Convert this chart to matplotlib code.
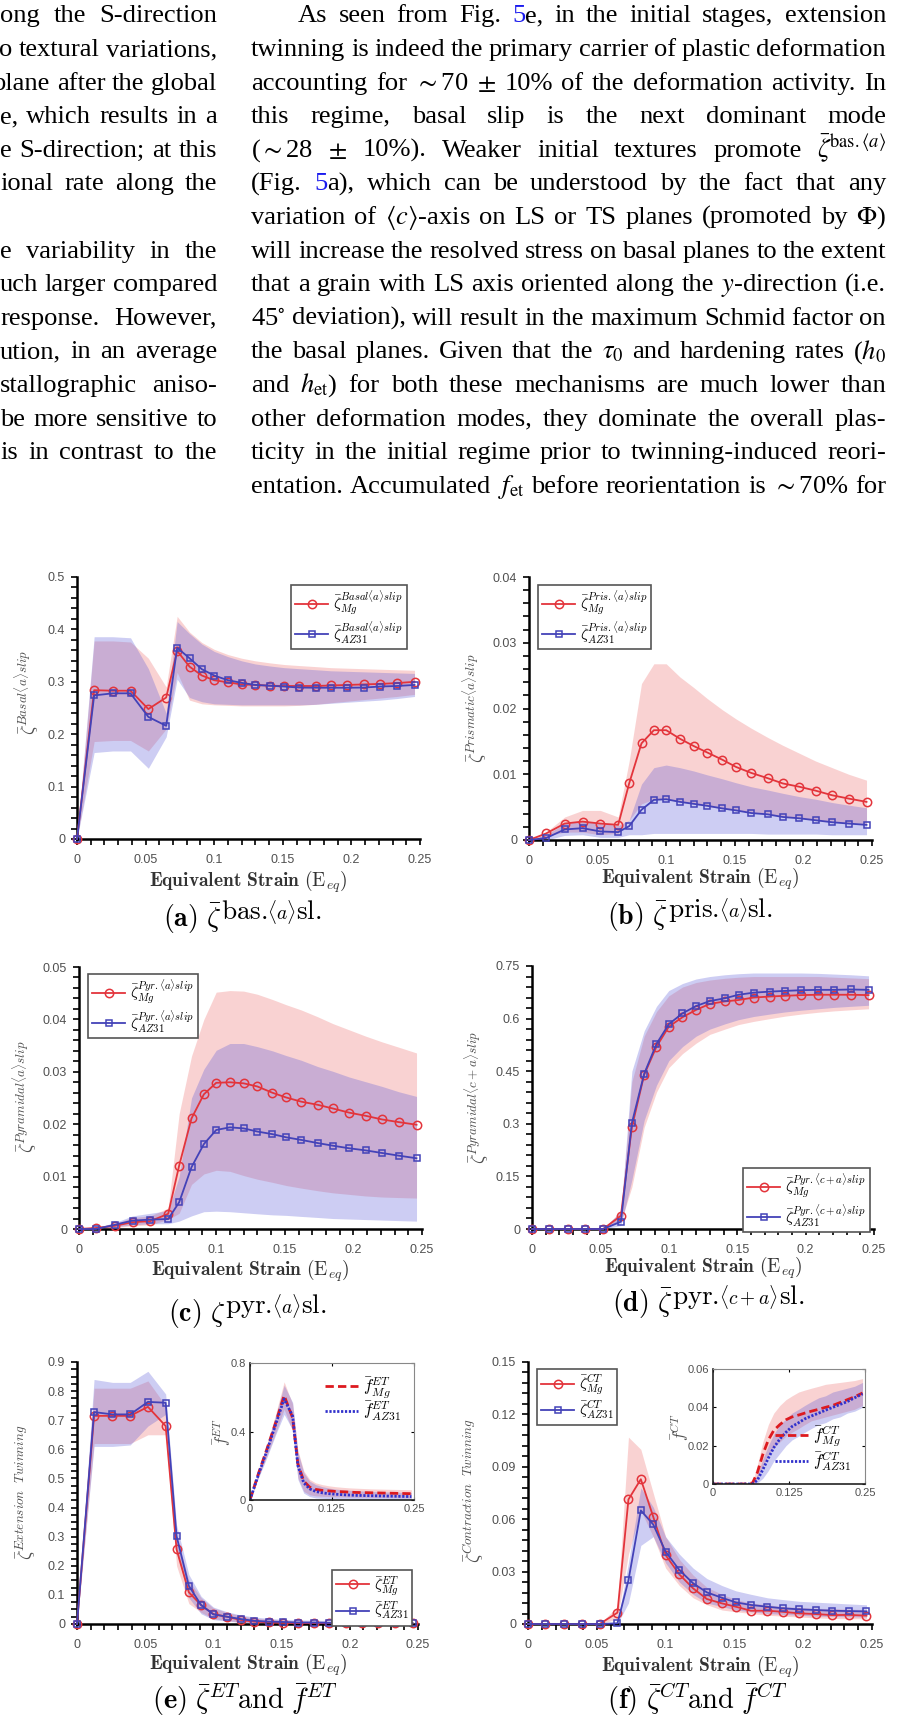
import matplotlib
matplotlib.use("Agg")
import matplotlib.pyplot as plt
from matplotlib.ticker import MultipleLocator, FuncFormatter

plt.rcParams["font.family"] = "Liberation Sans"
plt.rcParams["mathtext.fontset"] = "cm"

W, H = 901, 1723

# ---------------------------------------------------------------- data
strain = [0, 0.0125, 0.026, 0.039, 0.052, 0.065, 0.073, 0.082, 0.091, 0.1, 0.11, 0.12,
          0.13, 0.141, 0.151, 0.162, 0.174, 0.185, 0.197, 0.209, 0.221, 0.233, 0.246]

# (a) basal <a> slip
basal_mg = [0, 0.284, 0.283, 0.283, 0.248, 0.270, 0.359, 0.329, 0.312, 0.303, 0.299, 0.295,
            0.294, 0.2925, 0.292, 0.292, 0.292, 0.293, 0.294, 0.295, 0.296, 0.2975, 0.300]
basal_mg_lo = [0, 0.186, 0.188, 0.188, 0.168, 0.210, 0.318, 0.265, 0.258, 0.256, 0.255, 0.254,
               0.254, 0.254, 0.254, 0.255, 0.257, 0.260, 0.263, 0.266, 0.269, 0.272, 0.276]
basal_mg_hi = [0, 0.378, 0.378, 0.376, 0.345, 0.290, 0.425, 0.395, 0.375, 0.362, 0.352, 0.345,
               0.340, 0.336, 0.333, 0.331, 0.329, 0.327, 0.326, 0.325, 0.324, 0.323, 0.322]
basal_az = [0, 0.274, 0.278, 0.278, 0.233, 0.216, 0.365, 0.345, 0.324, 0.312, 0.303, 0.298,
            0.294, 0.2925, 0.291, 0.289, 0.2887, 0.2887, 0.2887, 0.289, 0.291, 0.292, 0.294]
basal_az_lo = [0, 0.165, 0.168, 0.168, 0.135, 0.195, 0.305, 0.270, 0.262, 0.258, 0.257, 0.256,
               0.256, 0.256, 0.256, 0.256, 0.257, 0.259, 0.261, 0.263, 0.265, 0.268, 0.272]
basal_az_hi = [0, 0.386, 0.386, 0.384, 0.325, 0.240, 0.415, 0.392, 0.372, 0.358, 0.348, 0.340,
               0.334, 0.330, 0.327, 0.325, 0.323, 0.321, 0.320, 0.319, 0.318, 0.317, 0.316]

# (b) prismatic <a> slip
pris_mg = [0, 0.001, 0.0025, 0.0028, 0.0025, 0.0023, 0.0086, 0.0147, 0.0167, 0.0167, 0.0154, 0.0143,
           0.0133, 0.0122, 0.0111, 0.0102, 0.0094, 0.0086, 0.0081, 0.0075, 0.0068, 0.0063, 0.0058]
pris_mg_lo = [0, 0.0006, 0.0012, 0.0012, 0.0008, 0.001, 0.003, 0.0055, 0.0062, 0.0062, 0.0058, 0.0055,
              0.0051, 0.0048, 0.0045, 0.0042, 0.0039, 0.0036, 0.0033, 0.003, 0.0028, 0.0026, 0.0025]
pris_mg_hi = [0, 0.0012, 0.0035, 0.0045, 0.0045, 0.0035, 0.012, 0.0238, 0.0268, 0.0268, 0.0248, 0.0232,
              0.0215, 0.0198, 0.0184, 0.017, 0.0156, 0.0144, 0.0132, 0.012, 0.011, 0.01, 0.0091]
pris_az = [0, 0.0003, 0.0016, 0.0018, 0.0013, 0.0012, 0.0021, 0.0046, 0.0061, 0.0062, 0.0058, 0.0055,
           0.0052, 0.0048, 0.0045, 0.0041, 0.0039, 0.0035, 0.0033, 0.0030, 0.0027, 0.0025, 0.0023]
pris_az_lo = [0, 0.0, 0.0007, 0.0008, 0.0004, 0.0004, 0.0008, 0.0008, 0.001, 0.001, 0.001, 0.001,
              0.001, 0.001, 0.001, 0.001, 0.0009, 0.0009, 0.0009, 0.0009, 0.0008, 0.0008, 0.0008]
pris_az_hi = [0, 0.0008, 0.0025, 0.0028, 0.0025, 0.0022, 0.003, 0.0085, 0.011, 0.0114, 0.011, 0.0105,
              0.0099, 0.0093, 0.0087, 0.0081, 0.0076, 0.0071, 0.0066, 0.0062, 0.0057, 0.0053, 0.0049]

# (c) pyramidal <a> slip
pyra_mg = [0, 0.0002, 0.0006, 0.0013, 0.0015, 0.0029, 0.0121, 0.0211, 0.0257, 0.0279, 0.028, 0.0278,
           0.0272, 0.026, 0.0251, 0.0243, 0.0237, 0.023, 0.0222, 0.0216, 0.0209, 0.0204, 0.0199]
pyra_mg_lo = [0, 0.0, 0.0003, 0.0006, 0.0008, 0.0018, 0.003, 0.0085, 0.0105, 0.0112, 0.011, 0.0102,
              0.0095, 0.0089, 0.0083, 0.0078, 0.0073, 0.0069, 0.0066, 0.0063, 0.0061, 0.006, 0.0059]
pyra_mg_hi = [0, 0.0004, 0.001, 0.0022, 0.0025, 0.004, 0.022, 0.033, 0.040, 0.0452, 0.0455, 0.0454,
              0.0448, 0.0438, 0.0428, 0.0418, 0.0405, 0.0392, 0.038, 0.0368, 0.0357, 0.0347, 0.0336]
pyra_az = [0, 0.0, 0.0008, 0.0016, 0.0018, 0.0019, 0.0051, 0.0118, 0.0162, 0.0189, 0.0194, 0.0192,
           0.0186, 0.0181, 0.0175, 0.017, 0.0164, 0.0159, 0.0154, 0.015, 0.0145, 0.014, 0.0135]
pyra_az_lo = [0, 0.0, 0.0004, 0.0008, 0.001, 0.001, 0.0015, 0.0025, 0.0033, 0.0034, 0.0033, 0.0031,
              0.0029, 0.0027, 0.0026, 0.0024, 0.0022, 0.002, 0.0019, 0.0018, 0.0017, 0.0016, 0.0015]
pyra_az_hi = [0, 0.0003, 0.0012, 0.0025, 0.003, 0.0035, 0.010, 0.025, 0.0305, 0.0341, 0.0354, 0.0354,
              0.0348, 0.034, 0.0331, 0.0322, 0.031, 0.0301, 0.029, 0.0281, 0.0272, 0.0262, 0.0253]

# (d) pyramidal <c+a> slip
pyrca_mg = [0, 0, 0, 0, 0, 0.038, 0.29, 0.44, 0.52, 0.577, 0.604, 0.625,
            0.642, 0.649, 0.653, 0.66, 0.663, 0.665, 0.667, 0.668, 0.668, 0.668, 0.667]
pyrca_mg_lo = [0, 0, 0, 0, 0, 0.02, 0.12, 0.29, 0.39, 0.46, 0.50, 0.53,
               0.555, 0.57, 0.583, 0.592, 0.60, 0.607, 0.613, 0.618, 0.622, 0.625, 0.628]
pyrca_mg_hi = [0, 0, 0, 0, 0.002, 0.05, 0.42, 0.55, 0.62, 0.665, 0.69, 0.703,
               0.71, 0.715, 0.718, 0.72, 0.72, 0.72, 0.72, 0.72, 0.718, 0.716, 0.714]
pyrca_az = [0, 0, 0, 0, 0, 0.021, 0.302, 0.4425, 0.528, 0.584, 0.615, 0.636,
            0.65, 0.658, 0.668, 0.674, 0.677, 0.679, 0.681, 0.682, 0.682, 0.683, 0.682]
pyrca_az_lo = [0, 0, 0, 0, 0, 0.01, 0.14, 0.31, 0.41, 0.48, 0.52, 0.55,
               0.57, 0.585, 0.597, 0.606, 0.613, 0.619, 0.624, 0.628, 0.632, 0.635, 0.638]
pyrca_az_hi = [0, 0, 0, 0, 0.002, 0.05, 0.45, 0.565, 0.635, 0.68, 0.70, 0.713,
               0.72, 0.725, 0.728, 0.73, 0.73, 0.73, 0.73, 0.729, 0.727, 0.725, 0.722]

# (e) extension twinning
et_mg = [0, 0.715, 0.715, 0.715, 0.746, 0.68, 0.256, 0.109, 0.065, 0.034, 0.025, 0.014,
         0.008, 0.006, 0.004, 0.003, 0.003, 0.003, 0.002, 0.002, 0.002, 0.002, 0.002]
et_mg_lo = [0, 0.62, 0.62, 0.62, 0.65, 0.65, 0.20, 0.07, 0.04, 0.018, 0.012, 0.005,
            0.002, 0.001, 0, 0, 0, 0, 0, 0, 0, 0, 0]
et_mg_hi = [0, 0.81, 0.81, 0.81, 0.835, 0.75, 0.30, 0.15, 0.09, 0.055, 0.04, 0.028,
            0.02, 0.016, 0.013, 0.011, 0.01, 0.009, 0.008, 0.008, 0.007, 0.007, 0.007]
et_az = [0, 0.728, 0.72, 0.72, 0.763, 0.76, 0.302, 0.131, 0.065, 0.033, 0.025, 0.017,
         0.011, 0.008, 0.007, 0.005, 0.005, 0.004, 0.004, 0.003, 0.003, 0.003, 0.003]
et_az_lo = [0, 0.61, 0.61, 0.615, 0.68, 0.72, 0.25, 0.09, 0.035, 0.015, 0.01, 0.006,
            0.003, 0.002, 0.001, 0, 0, 0, 0, 0, 0, 0, 0]
et_az_hi = [0, 0.84, 0.83, 0.83, 0.868, 0.79, 0.34, 0.17, 0.095, 0.058, 0.042, 0.031,
            0.024, 0.019, 0.016, 0.014, 0.013, 0.012, 0.011, 0.011, 0.01, 0.01, 0.01]

# (e) inset: extension twin volume fraction
fet_mg = [0, 0.15, 0.30, 0.45, 0.61, 0.48, 0.21, 0.11, 0.075, 0.062, 0.056, 0.053,
          0.05, 0.048, 0.046, 0.044, 0.043, 0.042, 0.041, 0.04, 0.039, 0.038, 0.037]
fet_mg_lo = [0, 0.13, 0.26, 0.39, 0.53, 0.40, 0.13, 0.05, 0.03, 0.024, 0.022, 0.02,
             0.019, 0.018, 0.017, 0.016, 0.016, 0.015, 0.015, 0.014, 0.014, 0.013, 0.013]
fet_mg_hi = [0, 0.165, 0.33, 0.50, 0.69, 0.56, 0.29, 0.17, 0.12, 0.1, 0.09, 0.083,
             0.078, 0.074, 0.071, 0.069, 0.067, 0.065, 0.064, 0.063, 0.062, 0.061, 0.06]
fet_az = [0, 0.145, 0.29, 0.44, 0.59, 0.49, 0.20, 0.10, 0.065, 0.05, 0.042, 0.037,
          0.034, 0.031, 0.029, 0.027, 0.026, 0.025, 0.024, 0.023, 0.022, 0.021, 0.02]
fet_az_lo = [0, 0.125, 0.25, 0.38, 0.50, 0.41, 0.12, 0.04, 0.02, 0.012, 0.01, 0.008,
             0.007, 0.006, 0.005, 0.005, 0.004, 0.004, 0.004, 0.003, 0.003, 0.003, 0.003]
fet_az_hi = [0, 0.16, 0.32, 0.49, 0.67, 0.57, 0.28, 0.16, 0.11, 0.09, 0.078, 0.07,
             0.064, 0.06, 0.057, 0.054, 0.052, 0.05, 0.048, 0.047, 0.046, 0.045, 0.044]

# (f) contraction twinning
ct_mg = [0, 0, 0, 0, 0, 0.0065, 0.0713, 0.0829, 0.0614, 0.0395, 0.0284, 0.0204,
         0.0143, 0.0118, 0.0099, 0.0076, 0.0076, 0.007, 0.0061, 0.0057, 0.0051, 0.0052, 0.0048]
ct_mg_lo = [0, 0, 0, 0, 0, 0.003, 0.04, 0.065, 0.05, 0.032, 0.022, 0.015,
            0.011, 0.008, 0.007, 0.006, 0.005, 0.0045, 0.004, 0.0035, 0.0032, 0.003, 0.003]
ct_mg_hi = [0, 0, 0, 0, 0, 0.01, 0.107, 0.10, 0.075, 0.05, 0.037, 0.028,
            0.021, 0.017, 0.014, 0.012, 0.011, 0.010, 0.0095, 0.009, 0.0088, 0.0085, 0.0082]
ct_az = [0, 0, 0, 0, 0, 0.0004, 0.025, 0.065, 0.057, 0.0414, 0.0309, 0.0233,
         0.0181, 0.015, 0.0124, 0.0109, 0.0099, 0.009, 0.0084, 0.008, 0.0076, 0.0074, 0.0072]
ct_az_lo = [0, 0, 0, 0, 0, 0, 0.012, 0.045, 0.05, 0.035, 0.024, 0.017,
            0.012, 0.01, 0.008, 0.007, 0.006, 0.0055, 0.005, 0.0045, 0.0043, 0.0041, 0.004]
ct_az_hi = [0, 0, 0, 0, 0, 0.001, 0.035, 0.078, 0.067, 0.05, 0.04, 0.032,
            0.026, 0.022, 0.019, 0.017, 0.015, 0.014, 0.013, 0.0125, 0.012, 0.0115, 0.011]

# (f) inset: contraction twin volume fraction
fct_mg = [0, 0, 0, 0, 0, 0.0005, 0.006, 0.0155, 0.023, 0.028, 0.031, 0.0335,
          0.035, 0.036, 0.037, 0.038, 0.039, 0.040, 0.041, 0.0425, 0.044, 0.0455, 0.0475]
fct_mg_lo = [0, 0, 0, 0, 0, 0, 0.003, 0.009, 0.015, 0.019, 0.022, 0.025,
             0.027, 0.029, 0.031, 0.033, 0.034, 0.035, 0.036, 0.037, 0.038, 0.039, 0.041]
fct_mg_hi = [0, 0, 0, 0, 0, 0.001, 0.01, 0.022, 0.031, 0.037, 0.041, 0.044,
             0.046, 0.048, 0.049, 0.050, 0.051, 0.052, 0.0525, 0.053, 0.0535, 0.054, 0.055]
fct_az = [0, 0, 0, 0, 0, 0, 0.002, 0.0075, 0.0135, 0.019, 0.0235, 0.027,
          0.030, 0.032, 0.034, 0.0355, 0.037, 0.0385, 0.040, 0.0415, 0.043, 0.045, 0.047]
fct_az_lo = [0, 0, 0, 0, 0, 0, 0.0005, 0.003, 0.007, 0.012, 0.016, 0.02,
             0.023, 0.025, 0.027, 0.029, 0.031, 0.032, 0.034, 0.035, 0.037, 0.038, 0.04]
fct_az_hi = [0, 0, 0, 0, 0, 0, 0.005, 0.013, 0.02, 0.026, 0.031, 0.034,
             0.037, 0.039, 0.041, 0.043, 0.045, 0.046, 0.048, 0.049, 0.05, 0.051, 0.053]

# body text (right column is justified, left column is cut at the page edge)
right_lines = [
    r"As seen from Fig. @5@e, in the initial stages, extension",
    r"twinning is indeed the primary carrier of plastic deformation",
    r"accounting for $\sim$70 $\pm$ 10% of the deformation activity. In",
    r"this regime, basal slip is the next dominant mode",
    r"($\sim$28 $\pm$ 10%). Weaker initial textures promote $\bar{\zeta}^{\mathrm{bas.}\langle{a}\rangle}$",
    r"(Fig. @5@a), which can be understood by the fact that any",
    r"variation of $\langle{c}\rangle$-axis on LS or TS planes (promoted by $\Phi$)",
    r"will increase the resolved stress on basal planes to the extent",
    r"that a grain with LS axis oriented along the $y$-direction (i.e.",
    r"45$^{\circ}$ deviation), will result in the maximum Schmid factor on",
    r"the basal planes. Given that the $\tau_0$ and hardening rates ($h_0$",
    r"and $h_{\mathrm{et}}$) for both these mechanisms are much lower than",
    r"other deformation modes, they dominate the overall plas-",
    r"ticity in the initial regime prior to twinning-induced reori-",
    r"entation. Accumulated $f_{\mathrm{et}}$ before reorientation is $\sim$70% for",
]
left_lines = [
    "ong the S-direction",
    "o textural variations,",
    "plane after the global",
    "e, which results in a",
    "e S-direction; at this",
    "ional rate along the",
    "",
    "e variability in the",
    "uch larger compared",
    "response. However,",
    "ution, in an average",
    "stallographic aniso-",
    "be more sensitive to",
    "is in contrast to the",
]

RED = "#e3343b"
BLUE = "#4342b8"
RED_FILL = "#f08080"
BLUE_FILL = "#5a5ad8"
INSET_RED = "#dd1a1f"
INSET_BLUE = "#3131cc"
TICK_GRAY = "#505050"
LINK_BLUE = "#1a1aee"

fig = plt.figure(figsize=(W / 100, H / 100), dpi=100)
renderer = fig.canvas.get_renderer()


def fx(px):
    return px / W


def fy(py):
    return 1 - py / H


def rect(l, t, r, b):
    return [l / W, 1 - b / H, (r - l) / W, (b - t) / H]


def tick_fmt(v, pos):
    return f"{round(v, 6):g}"


def width(t):
    return t.get_window_extent(renderer).width


# ---------------------------------------------------------------- body text
def word_texts(word, size):
    out = []
    for k, part in enumerate(word.split("@")):
        if part:
            out.append(fig.text(0, 0, part, fontsize=size, color=LINK_BLUE if k % 2 else "black",
                                family="Liberation Serif", math_fontfamily="stix",
                                ha="left", va="baseline"))
    return out


TEXT_Y0, LINE_DY = 15, 33.6
R_X0, R_X1, R_INDENT = 251, 886, 47
L_X0, L_X1 = 0, 217

rows = []
for i, line in enumerate(right_lines):
    left = R_X0 + (R_INDENT if i == 0 else 0)
    rows.append(([word_texts(w, 10) for w in line.split()], left, R_X1, TEXT_Y0 + i * LINE_DY, "justify"))
for i, line in enumerate(left_lines):
    if line:
        rows.append(([word_texts(w, 10) for w in line.split()], L_X0, L_X1, TEXT_Y0 + i * LINE_DY, "right"))

# pick the size so every right-column line fits with a minimum word gap
scale = 10
for words, left, right, y, mode in rows:
    if mode != "justify":
        continue
    natural = sum(width(t) for w in words for t in w) + (len(words) - 1) * 0.22 * 10 * 100 / 72
    scale = min(scale, (right - left) / natural)
body_size = 10 * scale
for words, *_ in rows:
    for w in words:
        for t in w:
            t.set_fontsize(body_size)

min_gap = 0.25 * body_size * 100 / 72
for words, left, right, y, mode in rows:
    wlen = [sum(width(t) for t in w) for w in words]
    gap = (right - left - sum(wlen)) / max(len(words) - 1, 1)
    if mode == "right":
        gap = max(gap, min_gap)
        x = right - sum(wlen) - gap * (len(words) - 1)
    else:
        x = left
    base = y + 0.28 * body_size * 100 / 72
    for w, wl in zip(words, wlen):
        xx = x
        for t in w:
            t.set_position((fx(xx), fy(base)))
            xx += width(t)
        x += wl + gap


# ---------------------------------------------------------------- panels
def draw_panel(cfg):
    ax = fig.add_axes(rect(*cfg["rect"]))
    ax.fill_between(strain, cfg["mg_lo"], cfg["mg_hi"], color=RED_FILL, alpha=0.35, lw=0)
    ax.fill_between(strain, cfg["az_lo"], cfg["az_hi"], color=BLUE_FILL, alpha=0.3, lw=0)
    ax.plot(strain, cfg["mg"], color=RED, marker="o", ms=6, mfc="none", mew=1.1, lw=1.3,
            clip_on=False, zorder=3, label=cfg["labels"][0])
    ax.plot(strain, cfg["az"], color=BLUE, marker="s", ms=5, mfc="none", mew=1.1, lw=1.3,
            clip_on=False, zorder=4, label=cfg["labels"][1])
    ax.set_xlim(0, 0.25)
    ax.set_ylim(0, cfg["ymax"])
    ax.xaxis.set_major_locator(MultipleLocator(0.05))
    ax.xaxis.set_minor_locator(MultipleLocator(0.01))
    ax.yaxis.set_major_locator(MultipleLocator(cfg["ymajor"]))
    ax.yaxis.set_minor_locator(MultipleLocator(cfg["yminor"]))
    ax.xaxis.set_major_formatter(FuncFormatter(tick_fmt))
    ax.yaxis.set_major_formatter(FuncFormatter(tick_fmt))
    for s in ("top", "right"):
        ax.spines[s].set_visible(False)
    for s in ("left", "bottom"):
        ax.spines[s].set_linewidth(1.8)
    ax.tick_params(which="both", direction="out", length=4.5, width=1.2,
                   labelsize=9, labelcolor=TICK_GRAY)
    ax.tick_params(axis="y", pad=4)
    ax.tick_params(axis="x", pad=6)
    leg = ax.legend(loc="upper left", bbox_to_anchor=(fx(cfg["leg"][0]), fy(cfg["leg"][1])),
                    bbox_transform=fig.transFigure, borderaxespad=0, fancybox=False,
                    edgecolor="#555555", framealpha=1, prop={"size": 11}, handlelength=2.2,
                    handletextpad=0.3, labelspacing=0.15, borderpad=0.25)
    leg.get_frame().set_linewidth(1.2)

    fig.text(fx(cfg["ylab_xy"][0]), fy(cfg["ylab_xy"][1]), cfg["ylabel"], rotation=90,
             ha="center", va="center", fontsize=13.5, color=TICK_GRAY)
    fig.text(fx(cfg["xlab_xy"][0]), fy(cfg["xlab_xy"][1]),
             r"$\mathbf{Equivalent\ Strain}\ (\mathrm{E}_{eq})$",
             ha="center", va="center", fontsize=14, color="#333333")

    # caption built from runs so the raised part keeps a large size
    texts = [fig.text(0, 0, s, fontsize=sz, ha="left", va="baseline", color="black")
             for s, sz, _ in cfg["caption"]]
    widths = [width(t) for t in texts]
    cx, base = cfg["cap_xy"]
    x = cx - sum(widths) / 2
    for t, wd, (_, _, rise) in zip(texts, widths, cfg["caption"]):
        t.set_position((fx(x), fy(base - rise)))
        x += wd
    return ax


def draw_inset(cfg):
    ax = fig.add_axes(rect(*cfg["rect"]))
    ax.fill_between(strain, cfg["mg_lo"], cfg["mg_hi"], color=RED_FILL, alpha=0.35, lw=0)
    ax.fill_between(strain, cfg["az_lo"], cfg["az_hi"], color=BLUE_FILL, alpha=0.3, lw=0)
    ax.plot(strain, cfg["mg"], color=INSET_RED, lw=2, ls=(0, (3, 1.5)), label=cfg["labels"][0])
    ax.plot(strain, cfg["az"], color=INSET_BLUE, lw=2, ls=(0, (0.8, 0.6)), label=cfg["labels"][1])
    ax.set_xlim(0, 0.25)
    ax.set_ylim(0, cfg["ymax"])
    ax.set_xticks([0, 0.125, 0.25])
    ax.set_yticks(cfg["yticks"])
    ax.xaxis.set_major_formatter(FuncFormatter(tick_fmt))
    ax.yaxis.set_major_formatter(FuncFormatter(tick_fmt))
    ax.tick_params(direction="in", length=2.5, width=0.8, top=True, right=True,
                   labelsize=8, labelcolor=TICK_GRAY, pad=3)
    for s in ("left", "bottom"):
        ax.spines[s].set_linewidth(1.2)
        ax.spines[s].set_color("#222222")
    for s in ("top", "right"):
        ax.spines[s].set_linewidth(0.8)
        ax.spines[s].set_color("#888888")
    ax.legend(loc=cfg["leg_loc"], bbox_to_anchor=(fx(cfg["leg"][0]), fy(cfg["leg"][1])),
              bbox_transform=fig.transFigure, borderaxespad=0, frameon=False,
              prop={"size": 12}, handlelength=2.0, handletextpad=0.3, labelspacing=0.05)
    fig.text(fx(cfg["ylab_xy"][0]), fy(cfg["ylab_xy"][1]), cfg["ylabel"], rotation=90,
             ha="center", va="center", fontsize=12, color=TICK_GRAY)


def slip_caption(tag, zeta, plane, sub):
    return [(r"$\mathbf{(%s)}\ %s$" % (tag, zeta), 20, 0),
            (r"$\mathrm{%s}$" % plane, 19.5, 8),
            (r"$%s$" % sub, 14, 8),
            (r"$\mathrm{sl.}$", 19.5, 8)]


panels = [
    dict(rect=(77, 577, 420, 839), mg=basal_mg, mg_lo=basal_mg_lo, mg_hi=basal_mg_hi,
         az=basal_az, az_lo=basal_az_lo, az_hi=basal_az_hi, ymax=0.5, ymajor=0.1, yminor=0.02,
         labels=[r"$\bar{\zeta}^{Basal\langle a\rangle slip}_{Mg}$",
                 r"$\bar{\zeta}^{Basal\langle a\rangle slip}_{AZ31}$"],
         leg=(291, 585), ylabel=r"$\bar{\zeta}^{Basal\langle a\rangle slip}$", ylab_xy=(27, 692),
         xlab_xy=(248, 882), cap_xy=(242, 927),
         caption=slip_caption("a", r"\bar{\zeta}", "bas.", r"\langle a\rangle")),
    dict(rect=(529, 577, 872, 840), mg=pris_mg, mg_lo=pris_mg_lo, mg_hi=pris_mg_hi,
         az=pris_az, az_lo=pris_az_lo, az_hi=pris_az_hi, ymax=0.04, ymajor=0.01, yminor=0.002,
         labels=[r"$\bar{\zeta}^{Pris.\langle a\rangle slip}_{Mg}$",
                 r"$\bar{\zeta}^{Pris.\langle a\rangle slip}_{AZ31}$"],
         leg=(538, 585), ylabel=r"$\bar{\zeta}^{Prismatic\langle a\rangle slip}$", ylab_xy=(475, 708),
         xlab_xy=(700, 879), cap_xy=(690, 925),
         caption=slip_caption("b", r"\bar{\zeta}", "pris.", r"\langle a\rangle")),
    dict(rect=(79, 967, 422, 1229), mg=pyra_mg, mg_lo=pyra_mg_lo, mg_hi=pyra_mg_hi,
         az=pyra_az, az_lo=pyra_az_lo, az_hi=pyra_az_hi, ymax=0.05, ymajor=0.01, yminor=0.002,
         labels=[r"$\bar{\zeta}^{Pyr.\langle a\rangle slip}_{Mg}$",
                 r"$\bar{\zeta}^{Pyr.\langle a\rangle slip}_{AZ31}$"],
         leg=(88, 974), ylabel=r"$\bar{\zeta}^{Pyramidal\langle a\rangle slip}$", ylab_xy=(25, 1097),
         xlab_xy=(250, 1271), cap_xy=(247, 1321),
         caption=slip_caption("c", r"\zeta", "pyr.", r"\langle a\rangle")),
    dict(rect=(532, 966, 874, 1229), mg=pyrca_mg, mg_lo=pyrca_mg_lo, mg_hi=pyrca_mg_hi,
         az=pyrca_az, az_lo=pyrca_az_lo, az_hi=pyrca_az_hi, ymax=0.75, ymajor=0.15, yminor=0.03,
         labels=[r"$\bar{\zeta}^{Pyr.\langle c+a\rangle slip}_{Mg}$",
                 r"$\bar{\zeta}^{Pyr.\langle c+a\rangle slip}_{AZ31}$"],
         leg=(743, 1168), ylabel=r"$\bar{\zeta}^{Pyramidal\langle c+a\rangle slip}$", ylab_xy=(477, 1097),
         xlab_xy=(703, 1268), cap_xy=(708, 1312),
         caption=slip_caption("d", r"\bar{\zeta}", "pyr.", r"\langle c+a\rangle")),
    dict(rect=(77, 1362, 418, 1624), mg=et_mg, mg_lo=et_mg_lo, mg_hi=et_mg_hi,
         az=et_az, az_lo=et_az_lo, az_hi=et_az_hi, ymax=0.9, ymajor=0.1, yminor=0.025,
         labels=[r"$\bar{\zeta}^{ET}_{Mg}$", r"$\bar{\zeta}^{ET}_{AZ31}$"],
         leg=(332, 1570), ylabel=r"$\bar{\zeta}^{Extension\ \ Twinning}$", ylab_xy=(26, 1492),
         xlab_xy=(248, 1665), cap_xy=(245, 1709),
         caption=[(r"$\mathbf{(e)}\ \bar{\zeta}^{ET}\mathrm{and}\ \bar{f}^{ET}$", 20.5, 0)]),
    dict(rect=(528, 1362, 872, 1624), mg=ct_mg, mg_lo=ct_mg_lo, mg_hi=ct_mg_hi,
         az=ct_az, az_lo=ct_az_lo, az_hi=ct_az_hi, ymax=0.15, ymajor=0.03, yminor=0.006,
         labels=[r"$\bar{\zeta}^{CT}_{Mg}$", r"$\bar{\zeta}^{CT}_{AZ31}$"],
         leg=(537, 1369), ylabel=r"$\bar{\zeta}^{Contraction\ \ Twinning}$", ylab_xy=(474, 1491),
         xlab_xy=(700, 1667), cap_xy=(697, 1709),
         caption=[(r"$\mathbf{(f)}\ \bar{\zeta}^{CT}\mathrm{and}\ \bar{f}^{CT}$", 20.5, 0)]),
]

insets = [
    dict(rect=(250, 1363, 414, 1500), mg=fet_mg, mg_lo=fet_mg_lo, mg_hi=fet_mg_hi,
         az=fet_az, az_lo=fet_az_lo, az_hi=fet_az_hi, ymax=0.8, yticks=[0, 0.4, 0.8],
         labels=[r"$\bar{f}^{ET}_{Mg}$", r"$\bar{f}^{ET}_{AZ31}$"],
         leg_loc="upper right", leg=(408, 1368), ylabel=r"$\bar{f}^{ET}$", ylab_xy=(222, 1432)),
    dict(rect=(713, 1369, 865, 1484), mg=fct_mg, mg_lo=fct_mg_lo, mg_hi=fct_mg_hi,
         az=fct_az, az_lo=fct_az_lo, az_hi=fct_az_hi, ymax=0.06, yticks=[0, 0.02, 0.04, 0.06],
         labels=[r"$\bar{f}^{CT}_{Mg}$", r"$\bar{f}^{CT}_{AZ31}$"],
         leg_loc="lower right", leg=(858, 1480), ylabel=r"$\bar{f}^{CT}$", ylab_xy=(680, 1427)),
]

for cfg in panels:
    draw_panel(cfg)
for cfg in insets:
    draw_inset(cfg)

fig.savefig("out.png", dpi=100)
